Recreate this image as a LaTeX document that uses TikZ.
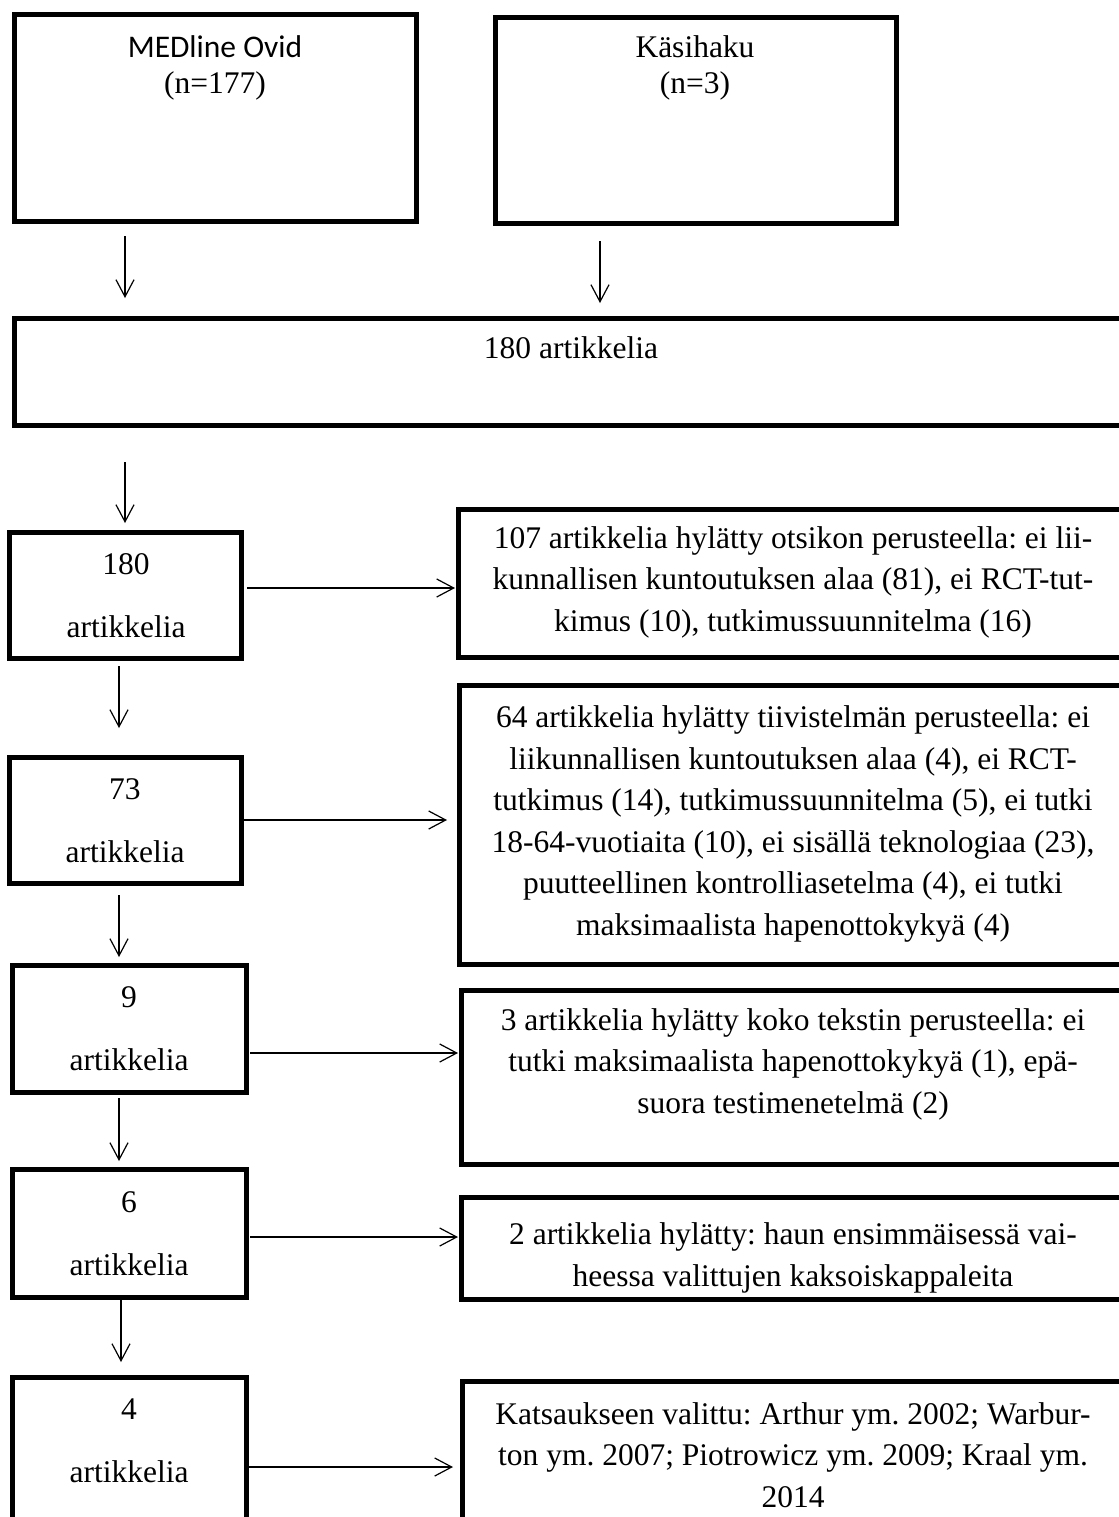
\documentclass[tikz,border=0pt]{standalone}
\usepackage{fontspec}
\setmainfont{Liberation Serif}
\newfontfamily\calibri{Carlito}
\usetikzlibrary{arrows.meta,positioning}
\frenchspacing

\tikzset{
  box/.style={draw, line width=2.5pt, inner sep=0pt, outer sep=0pt, anchor=north west},
  txt/.style={inner sep=0pt, anchor=base, align=center, font=\fontsize{15.75}{20.75}\selectfont},
  two/.style={txt, font=\fontsize{15.75}{31.5}\selectfont},
  flow/.style={-{Straight Barb[length=8.5pt,width=9pt]}, line width=0.6pt},
}

\begin{document}
\begin{tikzpicture}[x=0.5pt, y=-0.5pt]
\useasboundingbox (0,0) rectangle (1119,1517);
\clip (0,0) rectangle (1119,1517);

% search sources
\node[box, minimum width=201pt, minimum height=103.5pt] (medline) at (14,14) {};
\node[box, minimum width=200.5pt, minimum height=103pt] (kasi) at (495,17) {};
\node[txt, font=\fontsize{15.75}{18}\selectfont] (tmedline) at (215,93) {{\calibri MEDline Ovid}\\(n=177)};
\node[txt, font=\fontsize{15.75}{18}\selectfont] (tkasi) at (695,93) {Käsihaku\\(n=3)};

% all found
\node[box, minimum width=557pt, minimum height=53.5pt] (total) at (14,318) {};
\node[txt] (ttotal) at (571,358) {180 artikkelia};

% left column
\node[box, minimum width=116pt, minimum height=63pt] (b180) at (9,532) {};
\node[box, minimum width=116pt, minimum height=63pt] (b73) at (9,757) {};
\node[box, minimum width=117pt, minimum height=63.5pt] (b9) at (12,965) {};
\node[box, minimum width=117pt, minimum height=64pt] (b6) at (12,1169) {};
\node[box, minimum width=117pt, minimum height=85pt] (b4) at (12,1377) {};
\node[two] (t180) at (126,637) {180\\artikkelia};
\node[two] (t73) at (125,862) {73\\artikkelia};
\node[two] (t9) at (129,1070) {9\\artikkelia};
\node[two] (t6) at (129,1275) {6\\artikkelia};
\node[two] (t4) at (129,1482) {4\\artikkelia};

% right column
\node[box, minimum width=335pt, minimum height=74pt] (r107) at (458,509) {};
\node[box, minimum width=334.5pt, minimum height=139.5pt] (r64) at (459,685) {};
\node[box, minimum width=333.5pt, minimum height=87pt] (r3) at (461,990) {};
\node[box, minimum width=333.5pt, minimum height=51pt] (r2) at (461,1197) {};
\node[box, minimum width=333pt, minimum height=85pt] (rkats) at (462,1381) {};
\node[txt] (t107) at (793,631) {107 artikkelia hylätty otsikon perusteella: ei lii-\\kunnallisen kuntoutuksen alaa (81), ei RCT-tut-\\kimus (10), tutkimussuunnitelma (16)};
\node[txt] (t64) at (793,935) {64 artikkelia hylätty tiivistelmän perusteella: ei\\liikunnallisen kuntoutuksen alaa (4), ei RCT-\\tutkimus (14), tutkimussuunnitelma (5), ei tutki\\18-64-vuotiaita (10), ei sisällä teknologiaa (23),\\puutteellinen kontrolliasetelma (4), ei tutki\\maksimaalista hapenottokykyä (4)};
\node[txt] (t3) at (793,1113) {3 artikkelia hylätty koko tekstin perusteella: ei\\tutki maksimaalista hapenottokykyä (1), epä-\\suora testimenetelmä (2)};
\node[txt] (t2) at (793,1286) {2 artikkelia hylätty: haun ensimmäisessä vai-\\heessa valittujen kaksoiskappaleita};
\node[txt] (tkats) at (793,1507) {Katsaukseen valittu: Arthur ym. 2002; Warbur-\\ton ym. 2007; Piotrowicz ym. 2009; Kraal ym.\\2014};

% arrows down
\draw[flow, shorten <=7.5pt, shorten >=10pt] ([xshift=-45pt]medline.south) coordinate (m1) -- (m1 |- total.north);
\draw[flow, shorten <=9pt, shorten >=7.5pt] ([xshift=-47.75pt]kasi.south) coordinate (k1) -- (k1 |- total.north);
\draw[flow, shorten <=18.5pt, shorten >=4.5pt] (total.south -| b180.north) -- (b180.north);
\draw[flow, shorten <=4pt, shorten >=14.5pt] ([xshift=-3pt]b180.south) coordinate (d1) -- (d1 |- b73.north);
\draw[flow, shorten <=6pt, shorten >=4pt] ([xshift=-3pt]b73.south) coordinate (d2) -- (d2 |- b9.north);
\draw[flow, shorten <=3pt, shorten >=4pt] ([xshift=-5pt]b9.south) coordinate (d3) -- (d3 |- b6.north);
\draw[flow, shorten <=1pt, shorten >=7.5pt] ([xshift=-4pt]b6.south) coordinate (d4) -- (d4 |- b4.north);

% arrows right
\draw[flow, shorten <=3pt, shorten >=1.5pt] ([yshift=3.5pt]b180.east) coordinate (h1) -- (h1 -| r107.west);
\draw[flow, shorten <=1pt, shorten >=6pt] (b73.east) -- (b73.east -| r64.west);
\draw[flow, shorten <=2pt, shorten >=1.5pt] ([yshift=-12.25pt]b9.east) coordinate (h3) -- (h3 -| r3.west);
\draw[flow, shorten <=2pt, shorten >=1.5pt] ([yshift=-2pt]b6.east) coordinate (h4) -- (h4 -| r2.west);
\draw[flow, shorten <=1pt, shorten >=4.5pt] ([yshift=-2.5pt]b4.east) coordinate (h5) -- (h5 -| rkats.west);
\end{tikzpicture}
\end{document}
